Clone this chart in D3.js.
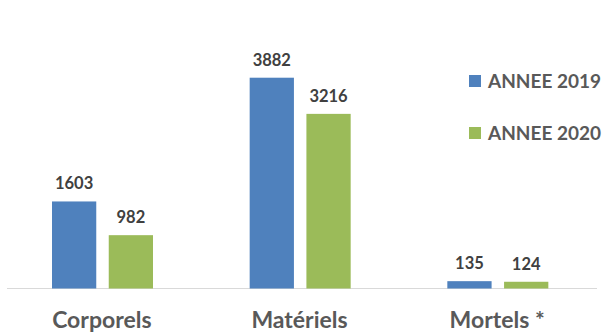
<!DOCTYPE html>
<html>
<head>
<meta charset="utf-8">
<script src="https://cdn.jsdelivr.net/npm/d3@7"></script>
<style>
body { margin: 0; background: #fff; }
svg text { font-family: Lato, "Open Sans", sans-serif; font-weight: bold; }
</style>
</head>
<body>
<div id="chart"></div>
<script>
var categories = ["Corporels", "Matériels", "Mortels *"];
var seriesNames = ["ANNEE 2019", "ANNEE 2020"];
var values2019 = [1603, 3882, 135];
var values2020 = [982, 3216, 124];
var colors = ["#4f81bd", "#9bbb59"];

var width = 606, height = 335;
var baseY = 288.5;

var svg = d3.select("#chart").append("svg")
    .attr("width", width)
    .attr("height", height);

var x = d3.scaleBand().domain(categories).range([3, 596]);
var x1 = d3.scaleBand().domain(seriesNames).range([49, 150]).paddingInner(0.22);
var y = d3.scaleLinear().domain([0, 4000]).range([baseY, baseY - 217.2]);

var data = categories.map(function (c, i) {
    return { cat: c, vals: [values2019[i], values2020[i]] };
});

// baseline
svg.append("line")
    .attr("x1", 7).attr("x2", 597)
    .attr("y1", baseY).attr("y2", baseY)
    .attr("stroke", "#d9d9d9").attr("stroke-width", 1);

var groups = svg.selectAll(".grp")
    .data(data)
    .enter().append("g")
    .attr("class", "grp")
    .attr("transform", function (d) { return "translate(" + x(d.cat) + ",0)"; });

groups.selectAll("rect")
    .data(function (d) { return d.vals.map(function (v, i) { return { s: seriesNames[i], v: v, i: i }; }); })
    .enter().append("rect")
    .attr("x", function (d) { return x1(d.s); })
    .attr("width", x1.bandwidth())
    .attr("y", function (d) { return y(d.v); })
    .attr("height", function (d) { return baseY - y(d.v); })
    .attr("fill", function (d) { return colors[d.i]; });

groups.selectAll(".val")
    .data(function (d) { return d.vals.map(function (v, i) { return { s: seriesNames[i], v: v }; }); })
    .enter().append("text")
    .attr("class", "val")
    .attr("x", function (d) { return x1(d.s) + x1.bandwidth() / 2; })
    .attr("y", function (d) { return y(d.v) - 12; })
    .attr("text-anchor", "middle")
    .attr("font-size", "16.5px")
    .attr("fill", "#404040")
    .text(function (d) { return d.v; });

// category labels
svg.selectAll(".cat")
    .data(categories)
    .enter().append("text")
    .attr("class", "cat")
    .attr("x", function (d) { return x(d) + x.bandwidth() / 2; })
    .attr("y", 328)
    .attr("text-anchor", "middle")
    .attr("font-size", "23px")
    .attr("fill", "#595959")
    .text(function (d) { return d; });

// legend
var legend = svg.selectAll(".leg")
    .data(seriesNames)
    .enter().append("g")
    .attr("class", "leg")
    .attr("transform", function (d, i) { return "translate(469," + (75 + i * 52) + ")"; });

legend.append("rect")
    .attr("width", 12).attr("height", 12)
    .attr("fill", function (d, i) { return colors[i]; });

legend.append("text")
    .attr("x", 19)
    .attr("y", 12.5)
    .attr("font-size", "19px")
    .attr("fill", "#595959")
    .text(function (d) { return d; });
</script>
</body>
</html>
